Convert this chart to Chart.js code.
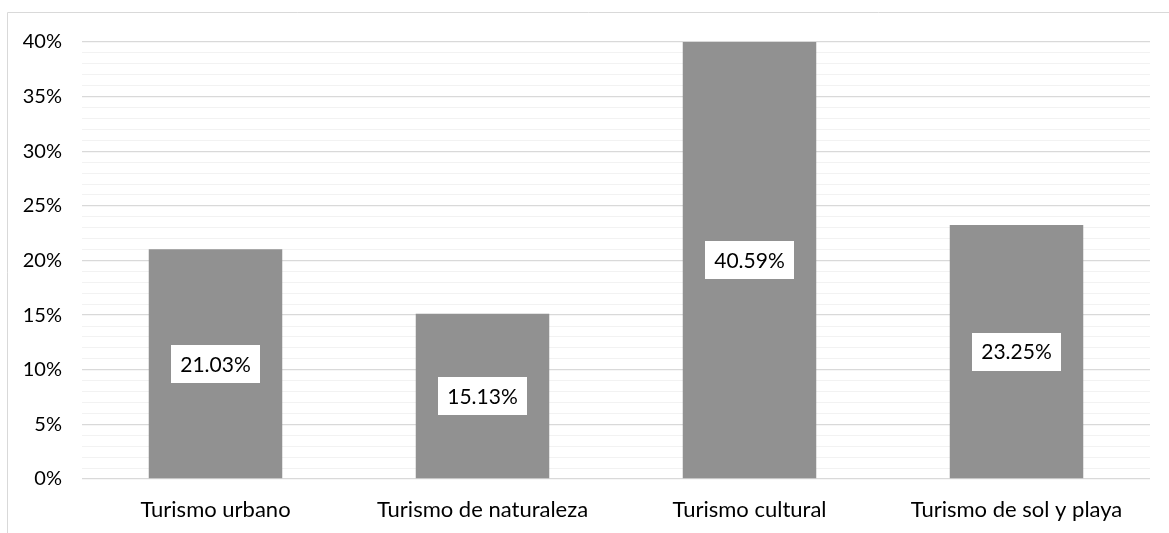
<!DOCTYPE html>
<html>
<head>
<meta charset="utf-8">
<script src="https://cdn.jsdelivr.net/npm/chart.js@4"></script>
<style>
  body { margin: 0; background: #fff; }
  #wrap { width: 1169px; height: 533px; }
</style>
</head>
<body>
<div id="wrap"><canvas id="chartBar"></canvas></div>
<script>
var categories = ['Turismo urbano', 'Turismo de naturaleza', 'Turismo cultural', 'Turismo de sol y playa'];
var values = [21.03, 15.13, 40.59, 23.25];
var valueLabels = ['21.03%', '15.13%', '40.59%', '23.25%'];

var FONT = 'Lato, "Liberation Sans", sans-serif';

// outer frame (only top and left edges visible in the picture)
var framePlugin = {
  id: 'frame',
  beforeDraw: function (chart) {
    var c = chart.ctx;
    c.save();
    c.strokeStyle = '#d9d9d9';
    c.lineWidth = 1;
    c.beginPath();
    c.moveTo(7.5, 533);
    c.lineTo(7.5, 12.5);
    c.lineTo(1169, 12.5);
    c.stroke();
    c.restore();
  }
};

// value labels in white boxes, centred on the visible part of each bar
var boxLabels = {
  id: 'boxLabels',
  afterDatasetsDraw: function (chart) {
    var c = chart.ctx;
    var area = chart.chartArea;
    var meta = chart.getDatasetMeta(0);
    c.save();
    c.font = '21px ' + FONT;
    c.textAlign = 'center';
    c.textBaseline = 'middle';
    meta.data.forEach(function (bar, i) {
      var top = Math.max(bar.y, area.top);
      var cy = (top + bar.base) / 2;
      var txt = valueLabels[i];
      var w = c.measureText(txt).width + 18;
      var h = 38;
      c.fillStyle = '#ffffff';
      c.fillRect(Math.round(bar.x - w / 2), Math.round(cy - h / 2), Math.round(w), h);
      c.fillStyle = '#000000';
      c.fillText(txt, bar.x, cy + 1);
    });
    c.restore();
  }
};

var ctx = document.getElementById('chartBar').getContext('2d');
var chartBar = new Chart(ctx, {
  type: 'bar',
  data: {
    labels: categories,
    datasets: [{
      data: values,
      backgroundColor: '#919191',
      categoryPercentage: 1,
      barPercentage: 0.5
    }]
  },
  options: {
    responsive: true,
    maintainAspectRatio: false,
    animation: false,
    layout: { padding: { top: 42, right: 19, bottom: 0, left: 0 } },
    plugins: {
      legend: { display: false },
      tooltip: { enabled: false }
    },
    scales: {
      x: {
        grid: { display: false, drawTicks: false },
        border: { display: false },
        ticks: { color: '#000', font: { family: FONT, size: 22 }, padding: 18, maxRotation: 0 },
        afterFit: function (s) { s.height = 54; }
      },
      y: {
        min: 0,
        max: 40,
        border: { display: false },
        grid: {
          drawTicks: false,
          color: function (c) { return c.tick.value % 5 === 0 ? '#d9d9d9' : '#f2f2f2'; },
          lineWidth: function (c) { return c.tick.value % 5 === 0 ? 1.3 : 1; }
        },
        ticks: {
          stepSize: 1,
          autoSkip: false,
          color: '#000',
          padding: 20,
          font: { family: FONT, size: 20 },
          callback: function (v) { return v % 5 === 0 ? v + '%' : ''; }
        },
        afterFit: function (s) { s.width = 82; }
      }
    }
  },
  plugins: [framePlugin, boxLabels]
});
</script>
</body>
</html>
